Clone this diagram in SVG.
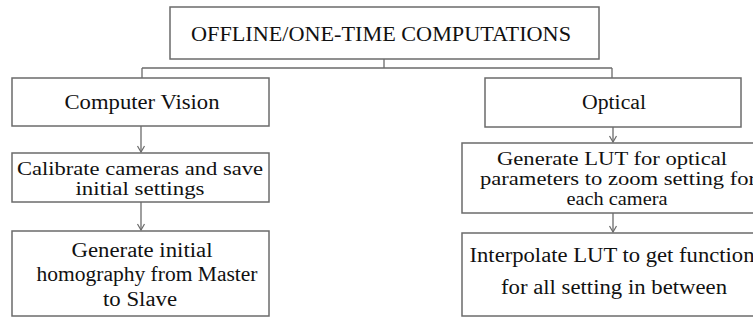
<svg xmlns="http://www.w3.org/2000/svg" width="753" height="320" viewBox="0 0 753 320">
<defs>
<style>
.box{fill:#fff;stroke:#6b6b6b;stroke-width:1.5}
.t{font-family:'Liberation Serif','Times New Roman',serif;font-size:20px;fill:#111;text-anchor:middle}
.s{font-size:18px}
.c{fill:none;stroke:#6b6b6b;stroke-width:1.3}
</style>
<marker id="ah" markerWidth="10" markerHeight="10" refX="8" refY="5" orient="auto" markerUnits="userSpaceOnUse">
<path d="M2,1.5 L8,5 L2,8.5" fill="none" stroke="#6b6b6b" stroke-width="1.2"/>
</marker>
</defs>
<rect width="753" height="320" fill="#fff"/>
<g id="connectors">
<path class="c" d="M384,59 V68 M142,68 H612 M142,68 V78 M612,68 V78"/>
<path class="c" d="M141,126 V152" marker-end="url(#ah)"/>
<path class="c" d="M141,202 V230" marker-end="url(#ah)"/>
<path class="c" d="M613,127 V142" marker-end="url(#ah)"/>
<path class="c" d="M613,213 V232" marker-end="url(#ah)"/>
</g>
<g id="top">
<rect class="box" x="170" y="7" width="429" height="52"/>
<text class="t" x="381" y="41" textLength="380" lengthAdjust="spacingAndGlyphs">OFFLINE/ONE-TIME COMPUTATIONS</text>
</g>
<g id="cv">
<rect class="box" x="12" y="78" width="257" height="48"/>
<text class="t" x="142" y="109" textLength="155" lengthAdjust="spacingAndGlyphs">Computer Vision</text>
</g>
<g id="optical">
<rect class="box" x="485" y="78" width="256" height="49"/>
<text class="t" x="614" y="109" textLength="64" lengthAdjust="spacingAndGlyphs">Optical</text>
</g>
<g id="calibrate">
<rect class="box" x="12" y="153" width="257" height="49"/>
<text class="t s" x="140" y="175" textLength="246" lengthAdjust="spacingAndGlyphs">Calibrate cameras and save</text>
<text class="t s" x="140" y="195" textLength="129" lengthAdjust="spacingAndGlyphs">initial settings</text>
</g>
<g id="homography">
<rect class="box" x="12" y="231" width="257" height="85"/>
<text class="t" x="142" y="257" textLength="141" lengthAdjust="spacingAndGlyphs">Generate initial</text>
<text class="t" x="147" y="281" textLength="221" lengthAdjust="spacingAndGlyphs">homography from Master</text>
<text class="t" x="140" y="306" textLength="74" lengthAdjust="spacingAndGlyphs">to Slave</text>
</g>
<g id="lut">
<rect class="box" x="462" y="143" width="300" height="70"/>
<text class="t s" x="612" y="165" textLength="230" lengthAdjust="spacingAndGlyphs">Generate LUT for optical</text>
<text class="t s" x="618" y="185" textLength="276" lengthAdjust="spacingAndGlyphs">parameters to zoom setting for</text>
<text class="t s" x="617" y="205" textLength="101" lengthAdjust="spacingAndGlyphs">each camera</text>
</g>
<g id="interpolate">
<rect class="box" x="462" y="233" width="300" height="83"/>
<text class="t" x="612" y="262" textLength="285" lengthAdjust="spacingAndGlyphs">Interpolate LUT to get function</text>
<text class="t" x="614" y="294" textLength="226" lengthAdjust="spacingAndGlyphs">for all setting in between</text>
</g>
</svg>
